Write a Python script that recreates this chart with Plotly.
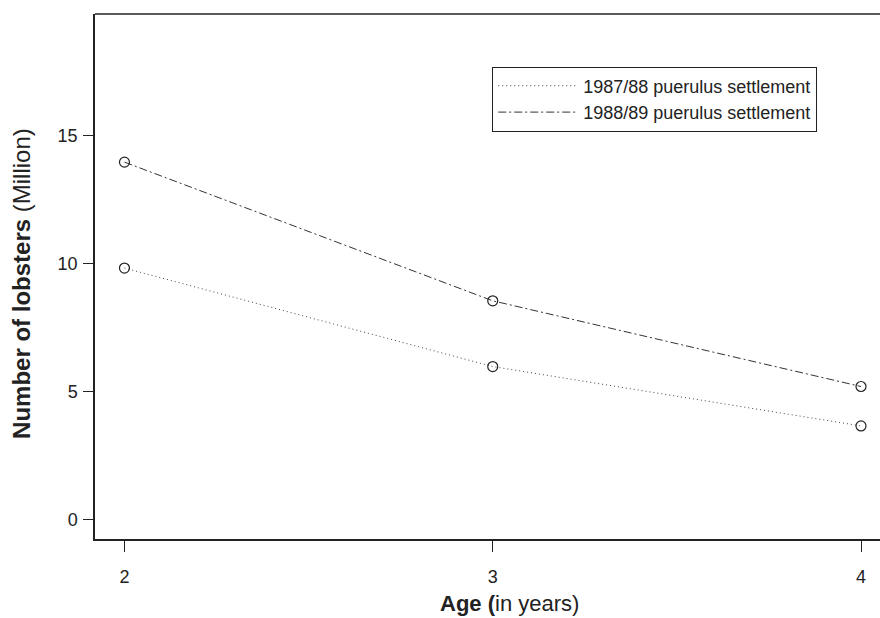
import plotly.graph_objects as go

# ---- data ----
ages = [2, 3, 4]
settle_1987_88 = [9.82, 5.97, 3.65]
settle_1988_89 = [13.96, 8.54, 5.19]
series_names = ["1987/88 puerulus settlement", "1988/89 puerulus settlement"]
x_ticks = [2, 3, 4]
y_ticks = [0, 5, 10, 15]

FONT = "Liberation Sans, Arial, Helvetica, sans-serif"
INK = "#222222"

fig = go.Figure()

# legend entries (lines only)
fig.add_trace(go.Scatter(x=ages, y=settle_1987_88, mode="lines", name=series_names[0],
                         line=dict(color="#444444", width=1, dash="1px,3px")))
fig.add_trace(go.Scatter(x=ages, y=settle_1988_89, mode="lines", name=series_names[1],
                         line=dict(color="#333333", width=1, dash="8px,3px,2px,3px")))
# open-circle markers (not in legend)
for ys in (settle_1987_88, settle_1988_89):
    fig.add_trace(go.Scatter(x=ages, y=ys, mode="markers", showlegend=False,
                             marker=dict(symbol="circle-open", size=10, color=INK,
                                         line=dict(width=1.2, color=INK))))

fig.update_layout(
    width=880, height=618,
    margin=dict(l=95, r=0, t=14, b=79, pad=0),
    paper_bgcolor="white", plot_bgcolor="white",
    font=dict(family=FONT, color=INK, size=18),
    showlegend=True,
    legend=dict(x=0.506, y=0.90, xanchor="left", yanchor="top",
                bgcolor="white", bordercolor=INK, borderwidth=1,
                font=dict(size=18, family=FONT, color=INK),
                itemwidth=80, tracegroupgap=0),
    xaxis=dict(range=[1.92, 4.0516], tickvals=x_ticks, ticktext=[str(v) for v in x_ticks],
               showgrid=False, zeroline=False, showline=True, linecolor=INK, linewidth=1.5,
               mirror=False, ticks="outside", ticklen=11, tickwidth=1.2, tickcolor=INK,
               ticklabelstandoff=10, tickfont=dict(size=18, family=FONT, color=INK)),
    yaxis=dict(range=[-0.77, 19.75], tickvals=y_ticks, ticktext=[str(v) for v in y_ticks],
               showgrid=False, zeroline=False, showline=True, linecolor=INK, linewidth=1.5,
               mirror=False, ticks="outside", ticklen=10, tickwidth=1.2, tickcolor=INK,
               ticklabelstandoff=2, tickfont=dict(size=18, family=FONT, color=INK)),
)

# top frame line of the plot box
fig.add_shape(type="line", xref="paper", yref="paper", x0=0, x1=1, y0=1, y1=1,
              line=dict(color=INK, width=1.5), layer="above")

fig.add_annotation(text="<b>Age (</b>in years)", xref="paper", yref="paper",
                   x=(509 - 95) / 785, y=-(603 - 538.7) / 524.2,
                   xanchor="center", yanchor="middle", showarrow=False,
                   font=dict(size=22, family=FONT, color=INK))
fig.add_annotation(text="<b>Number of lobsters</b> (Million)", xref="paper", yref="paper",
                   x=-(95 - 22) / 785, y=(538.7 - 284) / 524.2, textangle=-90,
                   xanchor="center", yanchor="middle", showarrow=False,
                   font=dict(size=24, family=FONT, color=INK))

fig.write_html("out.html")
